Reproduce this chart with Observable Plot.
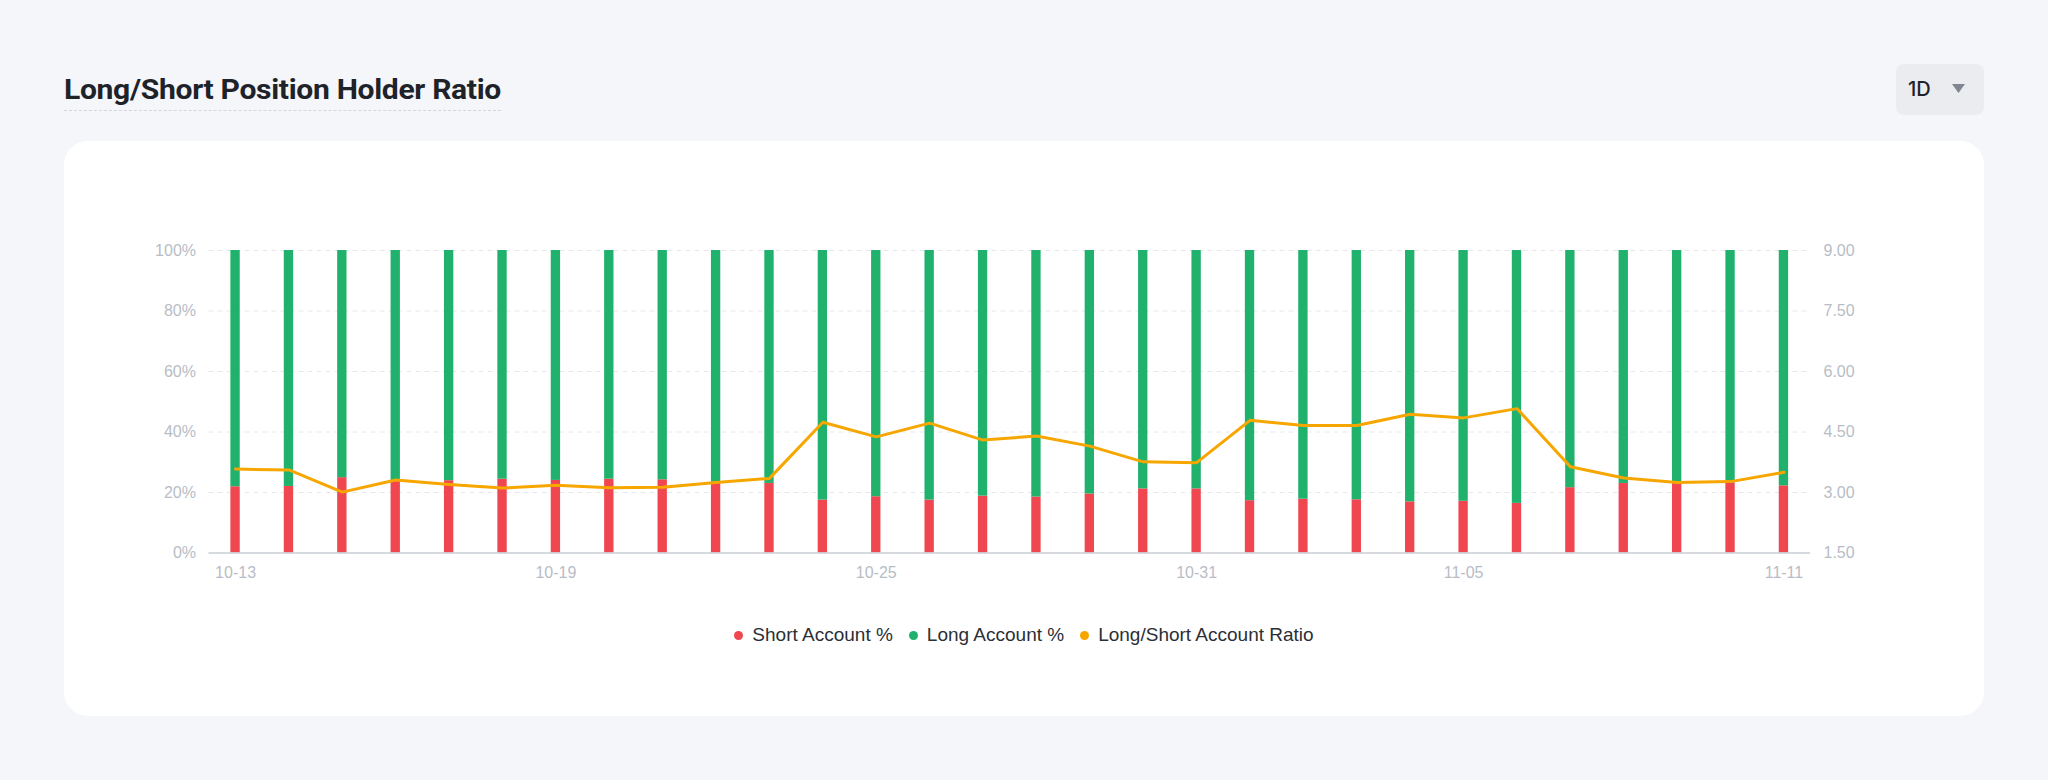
<!DOCTYPE html>
<html>
<head>
<meta charset="utf-8">
<script src="https://cdn.jsdelivr.net/npm/d3@7"></script>
<script src="https://cdn.jsdelivr.net/npm/@observablehq/plot@0.6"></script>
<style>
  html, body { margin: 0; padding: 0; }
  body { width: 2048px; height: 780px; background: #f5f6fa; position: relative; overflow: hidden; font-family: "Liberation Sans", Arial, sans-serif; }
  #title { position: absolute; left: 64px; top: 76px; font-family: Roboto, "Noto Sans", sans-serif; font-weight: 700; font-size: 28px; line-height: 28px; color: #1e2329; white-space: nowrap; transform-origin: 0 0; }
  #underline { position: absolute; left: 64px; top: 110px; width: 437px; height: 0; border-top: 1px dashed #d3d6db; }
  #btn { position: absolute; left: 1896px; top: 64px; width: 88px; height: 51px; border-radius: 8px; background: #eaecef; }
  #btn .lbl { position: absolute; left: 12px; top: 0; line-height: 51px; font-family: Inter, Roboto, sans-serif; font-size: 20px; font-weight: 500; color: #1e2329; }
  #btn svg { position: absolute; left: 56px; top: 20px; }
  #card { position: absolute; left: 64px; top: 141px; width: 1920px; height: 575px; background: #fff; border-radius: 24px; }
  .chart { position: absolute; left: 0; top: 200px; }
  #legend { position: absolute; left: 0; width: 2048px; top: 623px; height: 24px; display: flex; justify-content: center; align-items: center; font-family: "Liberation Sans", Arial, sans-serif; font-size: 19px; color: #2b2f36; }
  #legend .item { display: flex; align-items: center; margin: 0 8px; }
  #legend .dot { width: 9px; height: 9px; border-radius: 50%; margin-right: 9px; }
</style>
</head>
<body>
<div id="title">Long/Short Position Holder Ratio</div>
<div id="underline"></div>
<div id="btn"><span class="lbl">1D</span><svg width="13" height="10"><path d="M0,0 L13,0 L6.5,9 Z" fill="#80868f"/></svg></div>
<div id="card"></div>
<div id="bars" class="chart"></div>
<div id="line" class="chart"></div>
<div id="legend"></div>
<script>
// ---- data ----
const dates = ["10-13","10-14","10-15","10-16","10-17","10-18","10-19","10-20","10-21","10-22",
               "10-23","10-24","10-25","10-26","10-27","10-28","10-29","10-30","10-31","11-01",
               "11-02","11-03","11-04","11-05","11-06","11-07","11-08","11-09","11-10","11-11"];
const shortPct = [21.9, 22.0, 24.9, 23.8, 23.9, 24.4, 24.0, 24.4, 24.2, 23.5,
                  23.0, 17.5, 18.6, 17.5, 18.8, 18.5, 19.5, 21.2, 21.2, 17.3,
                  17.8, 17.6, 16.9, 17.1, 16.4, 21.6, 23.0, 23.1, 23.1, 22.2];
const longPct  = [78.1, 78.0, 75.1, 76.2, 76.1, 75.6, 76.0, 75.6, 75.8, 76.5,
                  77.0, 82.5, 81.4, 82.5, 81.2, 81.5, 80.5, 78.8, 78.8, 82.7,
                  82.2, 82.4, 83.1, 82.9, 83.6, 78.4, 77.0, 76.9, 76.9, 77.8];
const ratio    = [3.58, 3.56, 3.01, 3.31, 3.20, 3.11, 3.18, 3.12, 3.13, 3.25,
                  3.35, 4.74, 4.38, 4.72, 4.30, 4.40, 4.15, 3.76, 3.74, 4.79,
                  4.66, 4.66, 4.94, 4.85, 5.08, 3.64, 3.36, 3.25, 3.27, 3.50];
const xTicks = ["10-13","10-19","10-25","10-31","11-05","11-11"];
const pctTicks = [0, 20, 40, 60, 80, 100];
const ratioTicks = [1.5, 3.0, 4.5, 6.0, 7.5, 9.0];
const seriesNames = ["Short Account %", "Long Account %", "Long/Short Account Ratio"];
const seriesColors = ["#f0464f", "#20b26c", "#f7a600"];

// ---- shared layout ----
const W = 2048, H = 420;
const margins = {marginLeft: 208.5, marginRight: 238, marginTop: 50, marginBottom: 67.5};
const xScale = {type: "band", domain: dates, paddingInner: 0.825, paddingOuter: 0.41, round: false, axis: null};
const style = {background: "transparent", fontFamily: "'Liberation Sans', Arial, sans-serif", fontSize: "16px", overflow: "visible"};
const tickColor = "#b7bdc6";

const rows = [];
dates.forEach((d, i) => {
  rows.push({date: d, type: seriesNames[0], value: shortPct[i]});
  rows.push({date: d, type: seriesNames[1], value: longPct[i]});
});

const barsPlot = Plot.plot({
  width: W, height: H, ...margins, style,
  x: xScale,
  y: {domain: [0, 100], axis: null},
  color: {domain: seriesNames.slice(0, 2), range: seriesColors.slice(0, 2)},
  marks: [
    Plot.gridY(pctTicks.filter(t => t > 0), {stroke: "#e6e8eb", strokeOpacity: 1, strokeDasharray: "5,4"}),
    Plot.barY(rows, {x: "date", y: "value", fill: "type"}),
    Plot.ruleY([0], {stroke: "#c9cdd3", strokeWidth: 1.5}),
    Plot.axisY(pctTicks, {anchor: "left", label: null, tickSize: 0, tickPadding: 13, tickFormat: d => d + "%", color: tickColor, fontSize: 16}),
    Plot.axisX(xTicks, {anchor: "bottom", label: null, tickSize: 0, tickPadding: 14, color: tickColor, fontSize: 16})
  ]
});
document.getElementById("bars").appendChild(barsPlot);

const linePlot = Plot.plot({
  width: W, height: H, ...margins, style,
  x: xScale,
  y: {domain: [1.5, 9], axis: null},
  marks: [
    Plot.line(dates.map((d, i) => ({date: d, r: ratio[i]})), {x: "date", y: "r", stroke: seriesColors[2], strokeWidth: 3, strokeLinejoin: "round"}),
    Plot.axisY(ratioTicks, {anchor: "right", label: null, tickSize: 0, tickPadding: 13, tickFormat: d3.format(".2f"), color: tickColor, fontSize: 16})
  ]
});
document.getElementById("line").appendChild(linePlot);

// ---- legend ----
const legend = document.getElementById("legend");
seriesNames.forEach((n, i) => {
  const it = document.createElement("div"); it.className = "item";
  const dot = document.createElement("span"); dot.className = "dot"; dot.style.background = seriesColors[i];
  const tx = document.createElement("span"); tx.textContent = n;
  it.appendChild(dot); it.appendChild(tx); legend.appendChild(it);
});

// fit title width to reference (condensed look)
const t = document.getElementById("title");
t.style.letterSpacing = "-0.3px";
const w = t.getBoundingClientRect().width;
t.style.transform = "scaleX(" + (437 / w).toFixed(4) + ")";
</script>
</body>
</html>
